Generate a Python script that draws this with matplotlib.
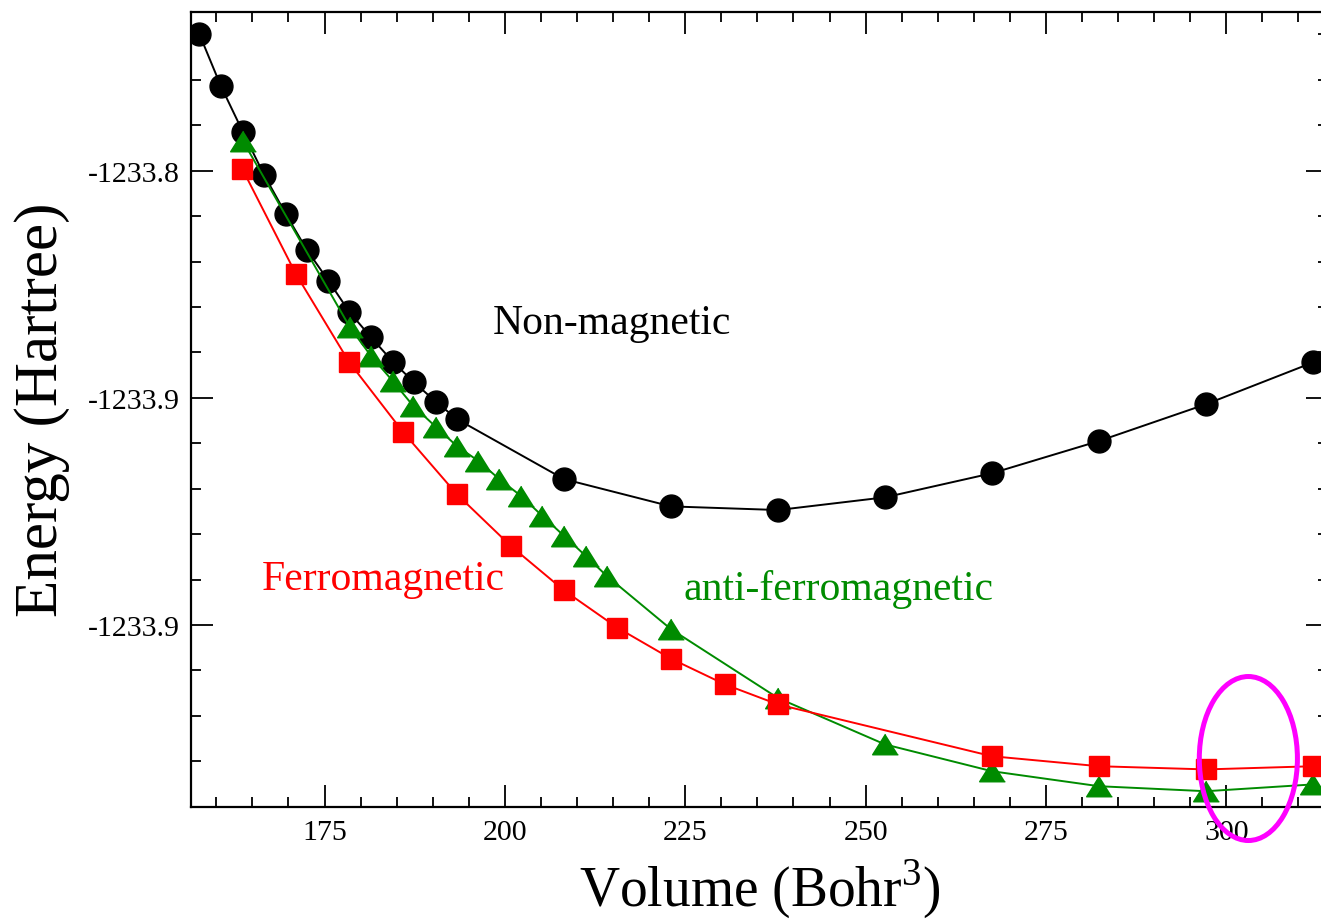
import matplotlib
matplotlib.use("Agg")
import matplotlib.pyplot as plt
from matplotlib.patches import Ellipse
from matplotlib.ticker import MultipleLocator, FixedLocator, FixedFormatter

plt.rcParams['font.family'] = ['Liberation Serif', 'DejaVu Serif']
plt.rcParams['mathtext.fontset'] = 'custom'
plt.rcParams['mathtext.rm'] = 'Liberation Serif'

# volume (Bohr^3) vs total energy (Hartree)
vol_nm = [157.64, 160.61, 163.66, 166.61, 169.62, 172.53, 175.53, 178.44, 181.45,
          184.50, 187.41, 190.46, 193.37, 208.20, 223.03, 237.87, 252.70, 267.53,
          282.37, 297.20, 312.03]
e_nm = [-1233.7699, -1233.7813, -1233.7914, -1233.8009, -1233.8095, -1233.8174,
        -1233.8242, -1233.8311, -1233.8367, -1233.8421, -1233.8466, -1233.8509,
        -1233.8547, -1233.8679, -1233.8739, -1233.8747, -1233.8719, -1233.8666,
        -1233.8595, -1233.8514, -1233.8422]

vol_fm = [163.60, 171.05, 178.44, 185.92, 193.33, 200.81, 208.20, 215.59, 223.00,
          230.52, 237.87, 267.53, 282.37, 297.20, 312.03]
e_fm = [-1233.7996, -1233.8228, -1233.8422, -1233.8576, -1233.8712, -1233.8826,
        -1233.8924, -1233.9006, -1233.9074, -1233.9131, -1233.9175, -1233.9289,
        -1233.9311, -1233.9318, -1233.9311]

vol_afm = [163.66, 178.53, 181.40, 184.45, 187.30, 190.44, 193.33, 196.32, 199.23,
           202.24, 205.19, 208.20, 211.21, 214.12, 223.00, 237.87, 252.70, 267.53,
           282.37, 297.20, 312.03]
e_afm = [-1233.7934, -1233.8345, -1233.8407, -1233.8463, -1233.8518, -1233.8564,
         -1233.8606, -1233.8639, -1233.8679, -1233.8716, -1233.8760, -1233.8804,
         -1233.8848, -1233.8892, -1233.9009, -1233.9161, -1233.9263, -1233.9322,
         -1233.9355, -1233.9366, -1233.9351]

y_ticks = [-1233.80, -1233.85, -1233.90]
y_ticklabels = ['-1233.8', '-1233.9', '-1233.9']
x_ticks = [175, 200, 225, 250, 275, 300]

green = '#008b00'

fig = plt.figure(figsize=(13.21, 9.2), dpi=100)
ax = fig.add_axes([0.1446, 0.1221, 0.8607, 0.8641])

ax.plot(vol_nm, e_nm, '-', color='black', lw=1.4, marker='o', ms=16.5,
        mec='black', mfc='black', zorder=2)
ax.plot(vol_afm, e_afm, '-', color=green, lw=1.4,
        marker=[(0, 0.8), (-1, -0.8), (1, -0.8)], ms=18.5,
        mec=green, mfc=green, zorder=3)
ax.plot(vol_fm, e_fm, '-', color='red', lw=1.4, marker='s', ms=15,
        mec='red', mfc='red', zorder=4)

# highlight around the ferro / antiferro crossing region
ax.add_patch(Ellipse((303.06, -1233.9294), 13.6, 0.0361, fill=False,
                     ec='magenta', lw=3.6, zorder=6, clip_on=False))

ax.text(198.36, -1233.8357, 'Non-magnetic', color='black', fontsize=30)
ax.text(166.34, -1233.8921, 'Ferromagnetic', color='red', fontsize=30)
ax.text(224.70, -1233.8943, 'anti-ferromagnetic', color=green, fontsize=30)

ax.set_xlim(156.49, 314.1)
ax.set_ylim(-1233.940, -1233.765)

ax.xaxis.set_major_locator(FixedLocator(x_ticks))
ax.xaxis.set_minor_locator(MultipleLocator(5))
ax.yaxis.set_major_locator(FixedLocator(y_ticks))
ax.yaxis.set_major_formatter(FixedFormatter(y_ticklabels))
ax.yaxis.set_minor_locator(MultipleLocator(0.01))

ax.tick_params(which='both', direction='in', top=True, right=True,
               width=1.3, labelsize=21.5, colors='black')
ax.tick_params(which='major', length=15.8)
ax.tick_params(which='minor', length=7.5)
ax.tick_params(axis='x', pad=9)
ax.tick_params(axis='y', pad=8)
for s in ax.spines.values():
    s.set_linewidth(1.6)

fig.text(57 / 1321, 1 - 410 / 920, 'Energy (Hartree)', fontsize=44,
         rotation=90, rotation_mode='anchor', ha='center', va='baseline')
fig.text(760 / 1321, 13 / 920, 'Volume (Bohr$^{3}$)', fontsize=40,
         ha='center', va='baseline')

fig.savefig('out.png', dpi=100)
